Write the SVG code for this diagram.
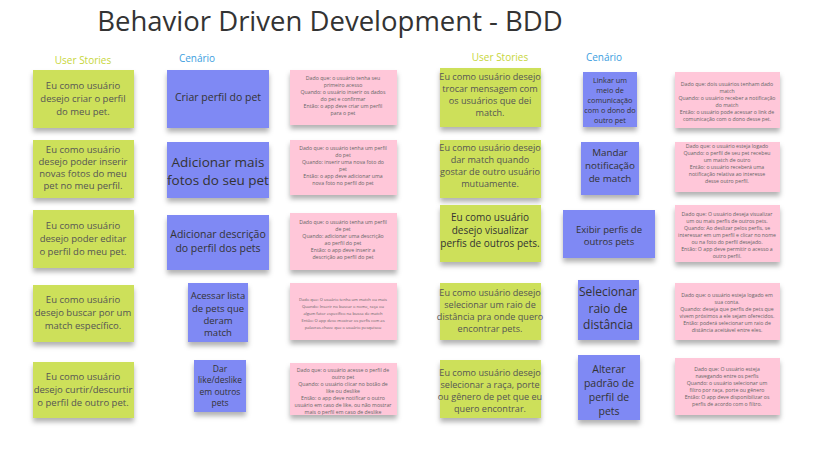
<svg xmlns="http://www.w3.org/2000/svg" width="827" height="452" viewBox="0 0 827 452">
<style>
text{font-family:"Open Sans","Liberation Sans",sans-serif;text-anchor:middle}
.g{fill:#cde05a}
.b{fill:#7f89f4}
.p{fill:#ffc7d9}
.gt{font-size:9.5px;fill:#555}
.gr{font-size:9.1px;fill:#555}
.bt{fill:#333}
.pt{font-size:5.2px;fill:#666}
.ps{font-size:4.1px;fill:#666}
.hd{font-size:10px}
</style>
<defs>
<filter id="sh" x="-10%" y="-10%" width="120%" height="130%">
<feDropShadow dx="0" dy="4" stdDeviation="2.5" flood-color="#000" flood-opacity="0.3"/>
</filter>
</defs>
<rect width="827" height="452" fill="#fff"/>
<text x="330" y="31" style="font-size:27.5px;fill:#333">Behavior Driven Development - BDD</text>
<text class="hd" x="83" y="64" fill="#c7d63a">User Stories</text>
<text class="hd" x="197" y="62" fill="#3d9ee0">Cenário</text>
<text class="hd" x="500" y="61" fill="#c7d63a">User Stories</text>
<text class="hd" x="604" y="61" fill="#3d9ee0">Cenário</text>

<g id="connectors"></g>

<g id="us1"><rect class="g" x="33" y="70" width="101" height="58" filter="url(#sh)"/>
<text class="gt" x="83" y="89">Eu como usuário</text><text class="gt" x="83" y="102">desejo criar o perfil</text><text class="gt" x="83" y="115">do meu pet.</text></g>
<g id="us2"><rect class="g" x="33" y="140" width="101" height="58" filter="url(#sh)"/>
<text class="gt" x="83" y="153">Eu como usuário</text><text class="gt" x="83" y="165">desejo poder inserir</text><text class="gt" x="83" y="177">novas fotos do meu</text><text class="gt" x="83" y="189">pet no meu perfil.</text></g>
<g id="us3"><rect class="g" x="33" y="210" width="101" height="58" filter="url(#sh)"/>
<text class="gt" x="83" y="229">Eu como usuário</text><text class="gt" x="83" y="242">desejo poder editar</text><text class="gt" x="83" y="255">o perfil do meu pet.</text></g>
<g id="us4"><rect class="g" x="33" y="285" width="101" height="57" filter="url(#sh)"/>
<text class="gt" x="83" y="303">Eu como usuário</text><text class="gt" x="83" y="316">desejo buscar por um</text><text class="gt" x="83" y="329">match específico.</text></g>
<g id="us5"><rect class="g" x="33" y="362" width="101" height="56" filter="url(#sh)"/>
<text class="gt" x="83" y="380">Eu como usuário</text><text class="gt" x="83" y="393">desejo curtir/descurtir</text><text class="gt" x="83" y="406">o perfil de outro pet.</text></g>

<g id="c1"><rect class="b" x="167" y="70" width="102" height="58" filter="url(#sh)"/>
<text class="bt" x="218" y="101" font-size="10.5">Criar perfil do pet</text></g>
<g id="c2"><rect class="b" x="167" y="142" width="102" height="56" filter="url(#sh)"/>
<text class="bt" x="218" y="167" font-size="13.5">Adicionar mais</text><text class="bt" x="218" y="185" font-size="13.5">fotos do seu pet</text></g>
<g id="c3"><rect class="b" x="167" y="215" width="102" height="55" filter="url(#sh)"/>
<text class="bt" x="218" y="238" font-size="10.5">Adicionar descrição</text><text class="bt" x="218" y="252" font-size="10.5">do perfil dos pets</text></g>
<g id="c4"><rect class="b" x="188" y="283" width="60" height="59" filter="url(#sh)"/>
<text class="bt" x="218" y="299" font-size="9.5">Acessar lista</text><text class="bt" x="218" y="312" font-size="9.5">de pets que</text><text class="bt" x="218" y="324" font-size="9.5">deram</text><text class="bt" x="218" y="336" font-size="9.5">match</text></g>
<g id="c5"><rect class="b" x="194" y="360" width="52" height="52" filter="url(#sh)"/>
<text class="bt" x="220" y="372" font-size="8.5">Dar</text><text class="bt" x="220" y="383" font-size="8.5">like/deslike</text><text class="bt" x="220" y="395" font-size="8.5">em outros</text><text class="bt" x="220" y="406" font-size="8.5">pets</text></g>

<g id="s1"><rect class="p" x="290" y="70" width="107" height="55" filter="url(#sh)"/>
<text class="pt" x="343" y="80">Dado que: o usuário tenha seu</text><text class="pt" x="343" y="87">primeiro acesso</text><text class="pt" x="343" y="94">Quando: o usuário inserir os dados</text><text class="pt" x="343" y="101">do pet e confirmar</text><text class="pt" x="343" y="108">Então: o app deve criar um perfil</text><text class="pt" x="343" y="115">para o pet</text></g>
<g id="s2"><rect class="p" x="290" y="140" width="107" height="55" filter="url(#sh)"/>
<text class="pt" x="343" y="150">Dado que: o usuário tenha um perfil</text><text class="pt" x="343" y="157">do pet</text><text class="pt" x="343" y="164">Quando: inserir uma nova foto do</text><text class="pt" x="343" y="171">pet</text><text class="pt" x="343" y="178">Então: o app deve adicionar uma</text><text class="pt" x="343" y="185">nova foto no perfil do pet</text></g>
<g id="s3"><rect class="p" x="290" y="213" width="107" height="57" filter="url(#sh)"/>
<text class="pt" x="343" y="224">Dado que: o usuário tenha um perfil</text><text class="pt" x="343" y="231">de pet</text><text class="pt" x="343" y="238">Quando: adicionar uma descrição</text><text class="pt" x="343" y="245">ao perfil do pet</text><text class="pt" x="343" y="252">Então: o app deve inserir a</text><text class="pt" x="343" y="259">descrição ao perfil do pet</text></g>
<g id="s4"><rect class="p" x="290" y="283" width="107" height="57" filter="url(#sh)"/>
<text class="ps" x="343" y="301">Dado que: O usuário tenha um match ou mais</text><text class="ps" x="343" y="308">Quando: Inserir no buscar o nome, raça ou</text><text class="ps" x="343" y="315">algum fator específico na busca de match</text><text class="ps" x="343" y="322">Então: O app deve mostrar os perfis com as</text><text class="ps" x="343" y="329">palavras-chave que o usuário pesquisou</text></g>
<g id="s5"><rect class="p" x="290" y="363" width="107" height="52" filter="url(#sh)"/>
<text class="pt" x="343" y="372">Dado que: o usuário acesse o perfil de</text><text class="pt" x="343" y="379">outro pet</text><text class="pt" x="343" y="386">Quando: o usuário clicar no botão de</text><text class="pt" x="343" y="393">like ou deslike</text><text class="pt" x="343" y="400">Então: o app deve notificar o outro</text><text class="pt" x="343" y="407">usuário em caso de like, ou não mostrar</text><text class="pt" x="343" y="414">mais o perfil em caso de deslike</text></g>

<g id="us6"><rect class="g" x="440" y="68" width="101" height="59" filter="url(#sh)"/>
<text class="gr" x="490" y="80">Eu como usuário desejo</text><text class="gr" x="490" y="92">trocar mensagem com</text><text class="gr" x="490" y="104">os usuários que dei</text><text class="gr" x="490" y="116">match.</text></g>
<g id="us7"><rect class="g" x="440" y="140" width="101" height="58" filter="url(#sh)"/>
<text class="gr" x="490" y="151">Eu como usuário desejo</text><text class="gr" x="490" y="163">dar match quando</text><text class="gr" x="490" y="175">gostar de outro usuário</text><text class="gr" x="490" y="187">mutuamente.</text></g>
<g id="us8"><rect class="g" x="440" y="205" width="101" height="57" filter="url(#sh)"/>
<text class="gt" x="490" y="221" style="fill:#333;font-size:10px">Eu como usuário</text><text class="gt" x="490" y="234" style="fill:#333;font-size:10px">desejo visualizar</text><text class="gt" x="490" y="247" style="fill:#333;font-size:10px">perfis de outros pets.</text></g>
<g id="us9"><rect class="g" x="440" y="283" width="101" height="57" filter="url(#sh)"/>
<text class="gr" x="490" y="296">Eu como usuário desejo</text><text class="gr" x="490" y="308">selecionar um raio de</text><text class="gr" x="490" y="320">distância pra onde quero</text><text class="gr" x="490" y="332">encontrar pets.</text></g>
<g id="us10"><rect class="g" x="440" y="360" width="101" height="58" filter="url(#sh)"/>
<text class="gr" x="490" y="376">Eu como usuário desejo</text><text class="gr" x="490" y="388">selecionar a raça, porte</text><text class="gr" x="490" y="400">ou gênero de pet que eu</text><text class="gr" x="490" y="412">quero encontrar.</text></g>

<g id="c6"><rect class="b" x="583" y="72" width="54" height="55" filter="url(#sh)"/>
<text class="bt" x="610" y="83" font-size="7.3">Linkar um</text><text class="bt" x="610" y="93" font-size="7.3">meio de</text><text class="bt" x="610" y="103" font-size="7.3">comunicação</text><text class="bt" x="610" y="113" font-size="7.3">com o dono do</text><text class="bt" x="610" y="123" font-size="7.3">outro pet</text></g>
<g id="c7"><rect class="b" x="581" y="142" width="58" height="53" filter="url(#sh)"/>
<text class="bt" x="610" y="156" font-size="9.8">Mandar</text><text class="bt" x="610" y="169" font-size="9.8">notificação</text><text class="bt" x="610" y="182" font-size="9.8">de match</text></g>
<g id="c8"><rect class="b" x="563" y="210" width="92" height="48" filter="url(#sh)"/>
<text class="bt" x="609" y="233" font-size="9.5">Exibir perfis de</text><text class="bt" x="609" y="245" font-size="9.5">outros pets</text></g>
<g id="c9"><rect class="b" x="578" y="280" width="61" height="60" filter="url(#sh)"/>
<text class="bt" x="608" y="296" font-size="12">Selecionar</text><text class="bt" x="608" y="312.5" font-size="12">raio de</text><text class="bt" x="608" y="329" font-size="12">distância</text></g>
<g id="c10"><rect class="b" x="578" y="355" width="62" height="65" filter="url(#sh)"/>
<text class="bt" x="609" y="373" font-size="10.5">Alterar</text><text class="bt" x="609" y="387" font-size="10.5">padrão de</text><text class="bt" x="609" y="401" font-size="10.5">perfil de</text><text class="bt" x="609" y="415" font-size="10.5">pets</text></g>

<g id="s6"><rect class="p" x="675" y="72" width="105" height="56" filter="url(#sh)"/>
<text class="pt" x="727" y="86">Dado que: dois usuários tenham dado</text><text class="pt" x="727" y="93">match</text><text class="pt" x="727" y="100">Quando: o usuário receber a notificação</text><text class="pt" x="727" y="107">do match</text><text class="pt" x="727" y="114">Então: o usuário pode acessar o link de</text><text class="pt" x="727" y="121">comunicação com o dono desse pet.</text></g>
<g id="s7"><rect class="p" x="675" y="142" width="105" height="50" filter="url(#sh)"/>
<text class="pt" x="727" y="148">Dado que: o usuário esteja logado</text><text class="pt" x="727" y="155">Quando: o perfil de seu pet recebeu</text><text class="pt" x="727" y="162">um match de outro</text><text class="pt" x="727" y="169">Então: o usuário receberá uma</text><text class="pt" x="727" y="176">notificação relativa ao interesse</text><text class="pt" x="727" y="183">desse outro perfil.</text></g>
<g id="s8"><rect class="p" x="675" y="205" width="105" height="57" filter="url(#sh)"/>
<text class="pt" x="727" y="216">Dado que: O usuário deseja visualizar</text><text class="pt" x="727" y="223">um ou mais perfis de outros pets.</text><text class="pt" x="727" y="230">Quando: Ao deslizar pelos perfis, se</text><text class="pt" x="727" y="237">interessar em um perfil e clicar no nome</text><text class="pt" x="727" y="244">ou na foto do perfil desejado.</text><text class="pt" x="727" y="251">Então: O app deve permitir o acesso a</text><text class="pt" x="727" y="258">outro perfil.</text></g>
<g id="s9"><rect class="p" x="675" y="283" width="105" height="57" filter="url(#sh)"/>
<text class="pt" x="727" y="297">Dado que: o usuário esteja logado em</text><text class="pt" x="727" y="304">sua conta.</text><text class="pt" x="727" y="311">Quando: deseja que perfis de pets que</text><text class="pt" x="727" y="318">vivem próximos a ele sejam oferecidos.</text><text class="pt" x="727" y="325">Então: poderá selecionar um raio de</text><text class="pt" x="727" y="332">distância aceitável entre eles.</text></g>
<g id="s10"><rect class="p" x="675" y="358" width="105" height="57" filter="url(#sh)"/>
<text class="pt" x="727" y="371">Dado que: O usuário esteja</text><text class="pt" x="727" y="378">navegando entre os perfis</text><text class="pt" x="727" y="385">Quando: o usuário selecionar um</text><text class="pt" x="727" y="392">filtro por raça, porte ou gênero</text><text class="pt" x="727" y="399">Então: O app deve disponibilizar os</text><text class="pt" x="727" y="406">perfis de acordo com o filtro.</text></g>
</svg>
